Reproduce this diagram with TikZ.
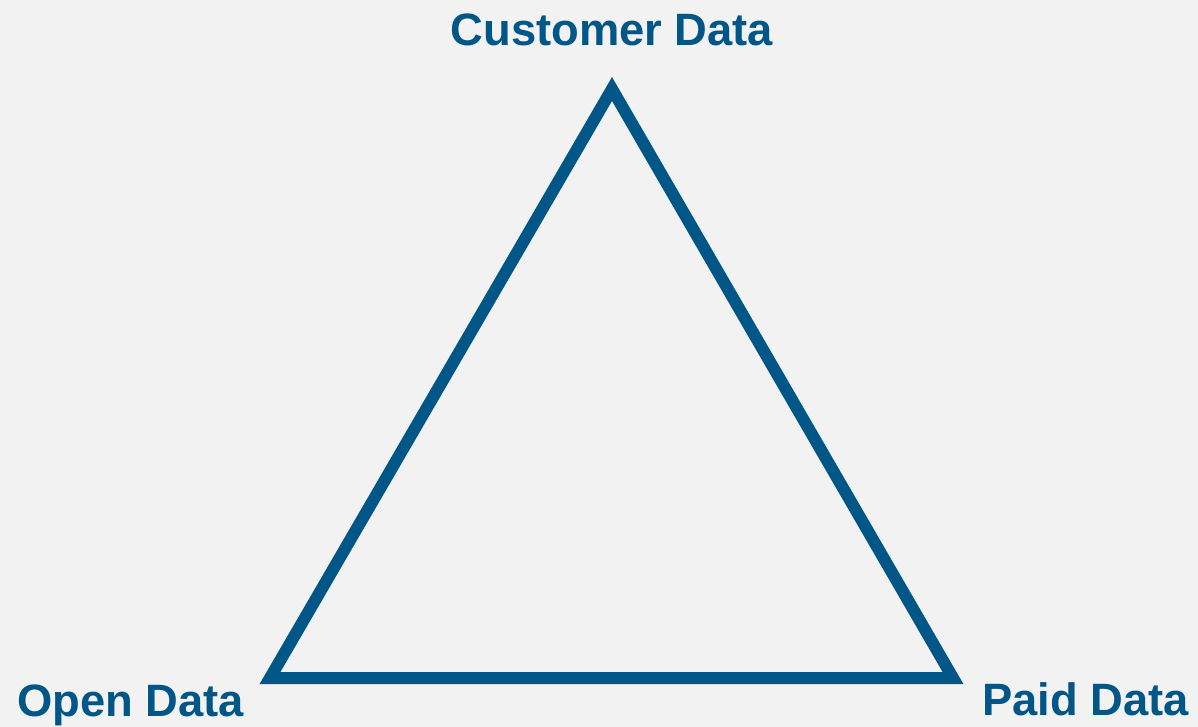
\documentclass[tikz,border=0pt]{standalone}
\usepackage{fontspec}
\setmainfont{Liberation Sans}
\definecolor{tblue}{RGB}{0,86,135}
\definecolor{bgray}{RGB}{242,242,242}
\tikzset{lb/.append style={text=tblue,font=\bfseries\fontsize{34}{40}\selectfont,inner sep=0pt}}
\tikzset{tr/.append style={draw=tblue,line width=9pt,line join=miter}}

\begin{document}
\begin{tikzpicture}[x=0.75pt,y=-0.75pt]
                % background
                \fill[bgray] (0,0) rectangle (1198,727);
                \useasboundingbox (0,0) rectangle (1198,727);
                \coordinate (t) at (612,89);
                \coordinate (l) at (270,678);
                \coordinate (r) at (953,678);
                \draw[tr] (t) -- (l) -- (r) -- cycle;
                \node[lb,anchor=base] (cd) at (612,46) {Customer Data};
                \node[lb,anchor=base west] (od) at (17,716) {Open Data};
                \node[lb,anchor=base west] (pd) at (982,715) {Paid Data};
            \end{tikzpicture}
\end{document}
